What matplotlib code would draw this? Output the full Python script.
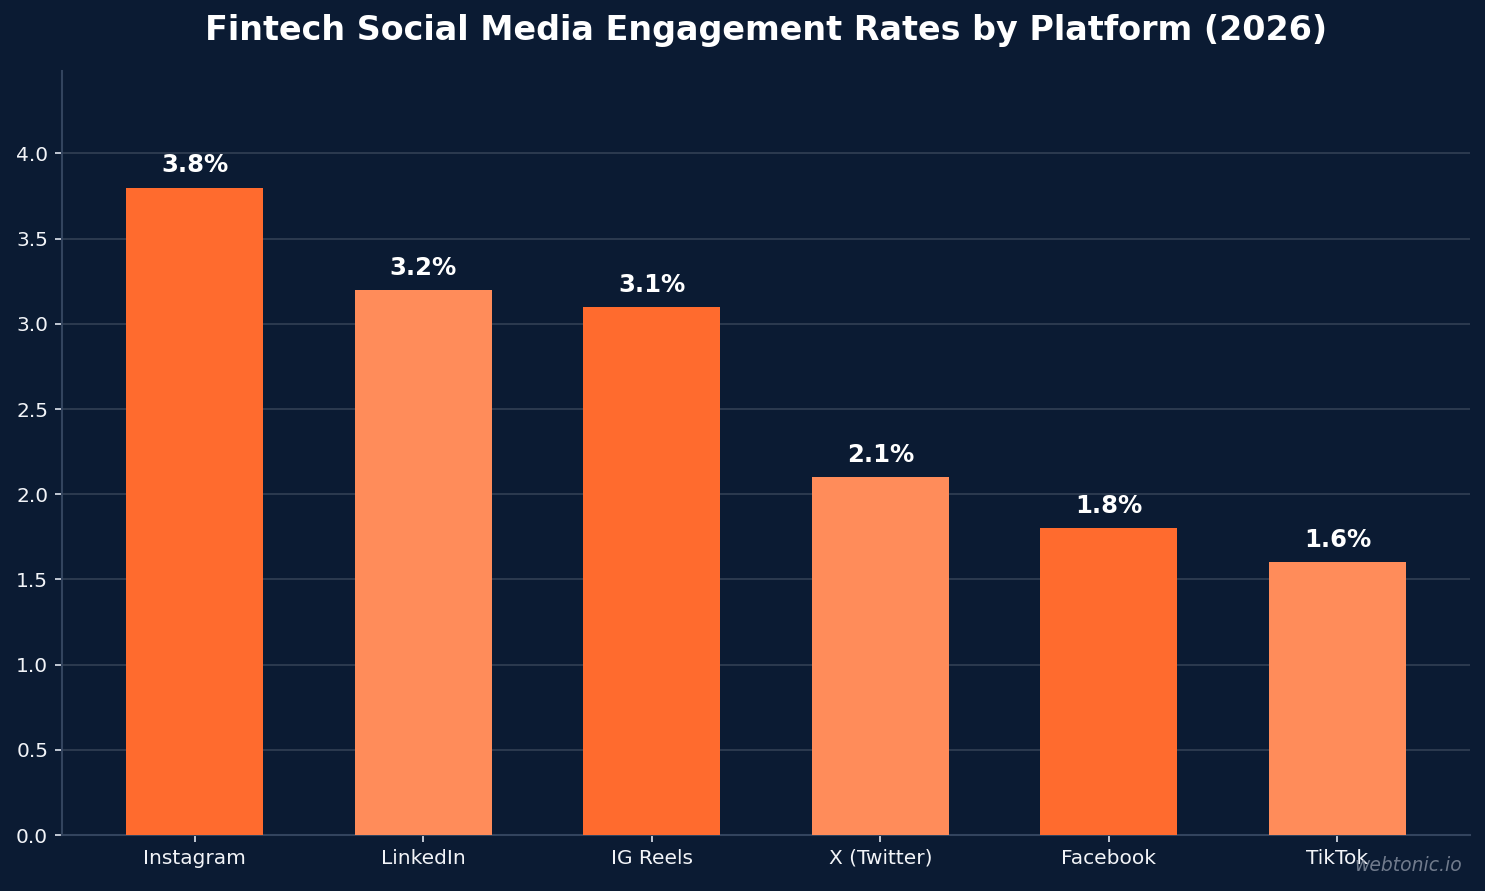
import matplotlib
matplotlib.use("Agg")
import matplotlib.pyplot as plt

platforms = ["Instagram", "LinkedIn", "IG Reels", "X (Twitter)", "Facebook", "TikTok"]
rates = [3.8, 3.2, 3.1, 2.1, 1.8, 1.6]
labels = ["3.8%", "3.2%", "3.1%", "2.1%", "1.8%", "1.6%"]

BG = "#0b1b33"
C1 = "#ff6b2e"
C2 = "#ff8c5a"

fig = plt.figure(figsize=(14.85, 8.91), dpi=100, facecolor=BG)
ax = fig.add_axes([0.0418, 0.0628, 0.9481, 0.8575])
ax.set_facecolor(BG)

colors = [C1 if i % 2 == 0 else C2 for i in range(len(rates))]
x = list(range(len(platforms)))
ax.bar(x, rates, width=0.6, color=colors, zorder=3)
ax.set_xticks(x)
ax.set_xticklabels(platforms)
ax.set_ylim(0, max(rates) * 1.18)
ax.set_yticks([0, 0.5, 1.0, 1.5, 2.0, 2.5, 3.0, 3.5, 4.0])

for xi, v, lab in zip(x, rates, labels):
    ax.text(xi, v + 0.06, lab, ha="center", va="bottom", color="white",
            fontsize=17.5, fontweight="bold", zorder=4)

ax.grid(axis="y", color="#ffffff", alpha=0.15, linewidth=1.3, zorder=0)
for s in ["top", "right"]:
    ax.spines[s].set_visible(False)
for s in ["left", "bottom"]:
    ax.spines[s].set_color("#33445e")
    ax.spines[s].set_linewidth(1.5)
ax.tick_params(colors="#f2f4f8", labelsize=14.5, length=5, width=1.3, pad=5)
ax.tick_params(axis="both", color="#d0d6e0")

ax.set_title("Fintech Social Media Engagement Rates by Platform (2026)",
             color="white", fontsize=24, fontweight="bold", pad=22)

fig.text(0.9845, 0.018, "webtonic.io", ha="right", va="bottom", color="#8a93a3",
         alpha=0.8, fontsize=13.5, style="italic")

fig.savefig("out.png", dpi=100, facecolor=BG)
